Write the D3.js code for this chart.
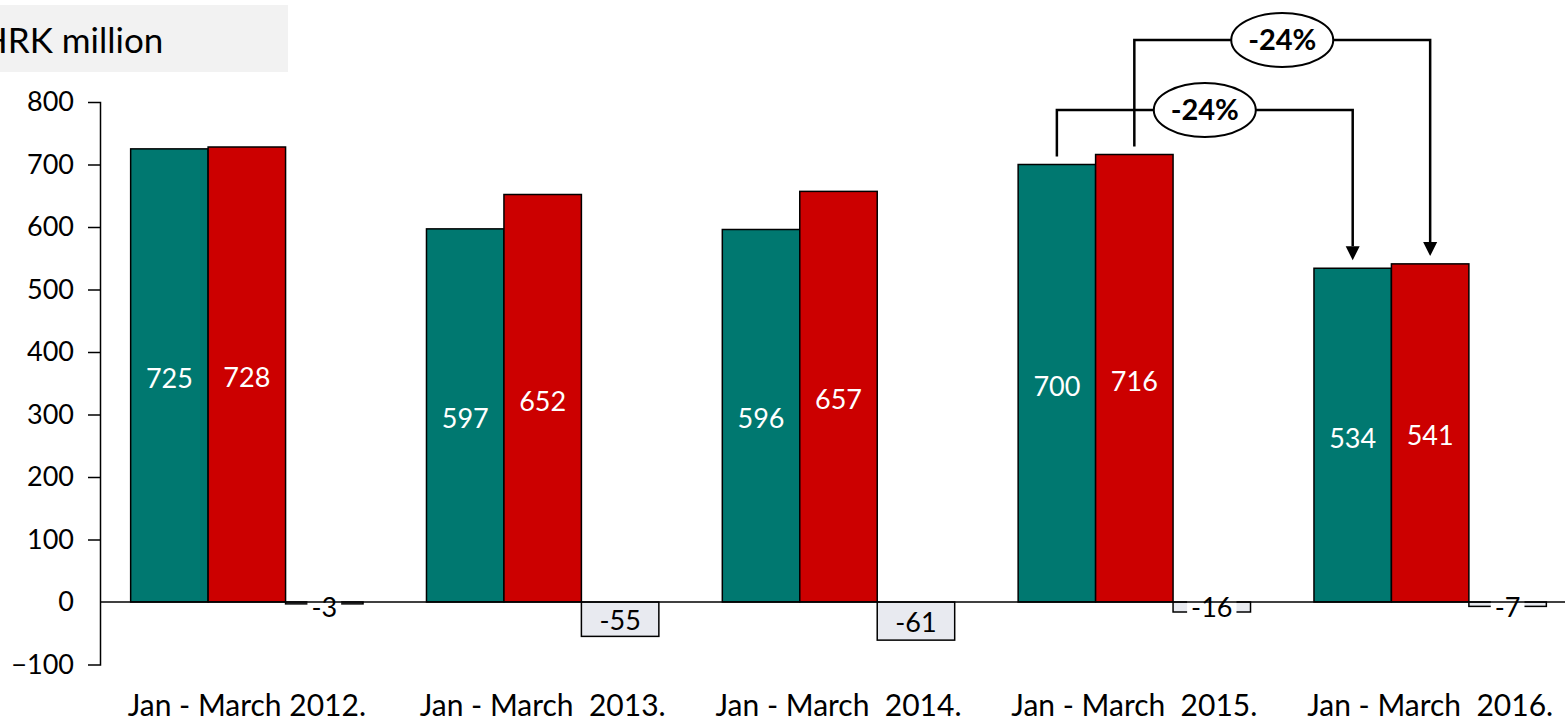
<!DOCTYPE html>
<html>
<head>
<meta charset="utf-8">
<script src="https://cdn.jsdelivr.net/npm/d3@7"></script>
<style>
  body { margin: 0; background: #fff; }
  svg { display: block; font-family: Lato, "Open Sans", sans-serif; }
</style>
</head>
<body>
<div id="chart"></div>
<script>
const categories = ['Jan - March 2012.', 'Jan - March  2013.', 'Jan - March  2014.', 'Jan - March  2015.', 'Jan - March  2016.'];
const seriesA = [725, 597, 596, 700, 534];   // teal
const seriesB = [728, 652, 657, 716, 541];   // red
const diffs = [-3, -55, -61, -16, -7];       // grey
const yTicks = [-100, 0, 100, 200, 300, 400, 500, 600, 700, 800];
const changes = [
  { from: 3, to: 4, key: 'a', label: '-24%' },
  { from: 3, to: 4, key: 'b', label: '-24%' }
];

const width = 1567, height = 722;
const svg = d3.select('#chart').append('svg')
  .attr('width', width).attr('height', height);

const y = d3.scaleLinear().domain([-100, 800]).range([664.5, 102]);
const x0 = d3.scaleBand().domain(categories).range([99, 1578])
  .paddingInner(0.2145).paddingOuter(0.107);
const x1 = d3.scaleBand().domain(['a', 'b', 'd']).range([0, x0.bandwidth()]);

// unit label box
svg.append('rect').attr('x', 0).attr('y', 5).attr('width', 288).attr('height', 67).attr('fill', '#f2f2f2');
svg.append('text').attr('x', -19).attr('y', 53).attr('font-size', 35).attr('fill', '#000').text('HRK million');

// y axis
const yAxis = d3.axisLeft(y).tickValues(yTicks).tickSize(12).tickSizeOuter(12).tickPadding(14);
const ga = svg.append('g').attr('transform', 'translate(100,0)').call(yAxis);
ga.select('.domain').attr('stroke', '#000').attr('stroke-width', 1.5);
ga.selectAll('.tick line').attr('stroke', '#000').attr('stroke-width', 1.5);
ga.selectAll('.tick text').attr('font-size', 27).attr('fill', '#000').attr('font-family', 'Lato, sans-serif');
ga.selectAll('.tick').filter(d => d === 0 || d === 800 || d === -100).select('line').remove();

const groups = svg.append('g').selectAll('g').data(categories).join('g')
  .attr('transform', d => `translate(${x0(d)},0)`);

const rows = categories.map((c, i) => [
  { key: 'a', v: seriesA[i], fill: '#007870' },
  { key: 'b', v: seriesB[i], fill: '#cc0000' },
  { key: 'd', v: diffs[i], fill: '#e8eaf0' }
]);

groups.each(function(c, i) {
  const g = d3.select(this);
  rows[i].forEach(d => {
    const top = y(Math.max(0, d.v)), bot = y(Math.min(0, d.v));
    g.append('rect').attr('x', x1(d.key)).attr('y', top)
      .attr('width', x1.bandwidth()).attr('height', Math.max(bot - top, 1))
      .attr('fill', d.fill).attr('stroke', '#000').attr('stroke-width', 1.5);
  });
});

// zero line
svg.append('line').attr('x1', 100).attr('x2', 1565).attr('y1', y(0)).attr('y2', y(0))
  .attr('stroke', '#000').attr('stroke-width', 1.5);

// labels
groups.each(function(c, i) {
  const g = d3.select(this);
  rows[i].forEach(d => {
    const cx = x1(d.key) + x1.bandwidth() / 2;
    if (d.key === 'd') {
      const small = Math.abs(d.v) < 30;
      const cy = small ? y(0) + 6 : y(d.v / 2) + 1;
      const t = g.append('text').attr('x', cx).attr('y', cy).attr('dy', '0.35em')
        .attr('text-anchor', 'middle').attr('font-size', 27).attr('fill', '#000').text(d.v);
      if (small) {
        const bb = t.node().getBBox();
        g.insert('rect', function() { return t.node(); })
          .attr('x', bb.x - 4).attr('y', bb.y + 2).attr('width', bb.width + 8).attr('height', bb.height - 4)
          .attr('fill', '#fff');
      }
    } else {
      g.append('text').attr('x', cx).attr('y', y(d.v / 2) + 3).attr('dy', '0.35em')
        .attr('text-anchor', 'middle').attr('font-size', 27).attr('fill', '#fff').text(d.v);
    }
  });
});

// category labels
svg.append('g').selectAll('text').data(categories).join('text')
  .attr('x', d => x0(d) + x0.bandwidth() / 2).attr('y', 716)
  .attr('text-anchor', 'middle').attr('font-size', 30).attr('fill', '#000')
  .style('white-space', 'pre').text(d => d);

// change brackets
const vals = { a: seriesA, b: seriesB };
const levels = { a: 110, b: 40 };
const arrowLen = 14;
changes.forEach(ch => {
  const xa = x0(categories[ch.from]) + x1(ch.key) + x1.bandwidth() / 2;
  const xb = x0(categories[ch.to]) + x1(ch.key) + x1.bandwidth() / 2;
  const ya = y(vals[ch.key][ch.from]) - 8;
  const yb = y(vals[ch.key][ch.to]) - 8;
  const ly = levels[ch.key];
  svg.append('path').attr('d', `M${xa},${ya}V${ly}H${xb}V${yb - arrowLen}`)
    .attr('fill', 'none').attr('stroke', '#000').attr('stroke-width', 2.5);
  svg.append('path').attr('d', `M${xb - 7},${yb - arrowLen}L${xb + 7},${yb - arrowLen}L${xb},${yb}Z`).attr('fill', '#000');
  const ex = (xa + xb) / 2;
  svg.append('ellipse').attr('cx', ex).attr('cy', ly).attr('rx', 51).attr('ry', 27)
    .attr('fill', '#fff').attr('stroke', '#000').attr('stroke-width', 2);
  svg.append('text').attr('x', ex).attr('y', ly).attr('dy', '0.35em').attr('text-anchor', 'middle')
    .attr('font-size', 29).attr('font-weight', 'bold').attr('fill', '#000').text(ch.label);
});
</script>
</body>
</html>
